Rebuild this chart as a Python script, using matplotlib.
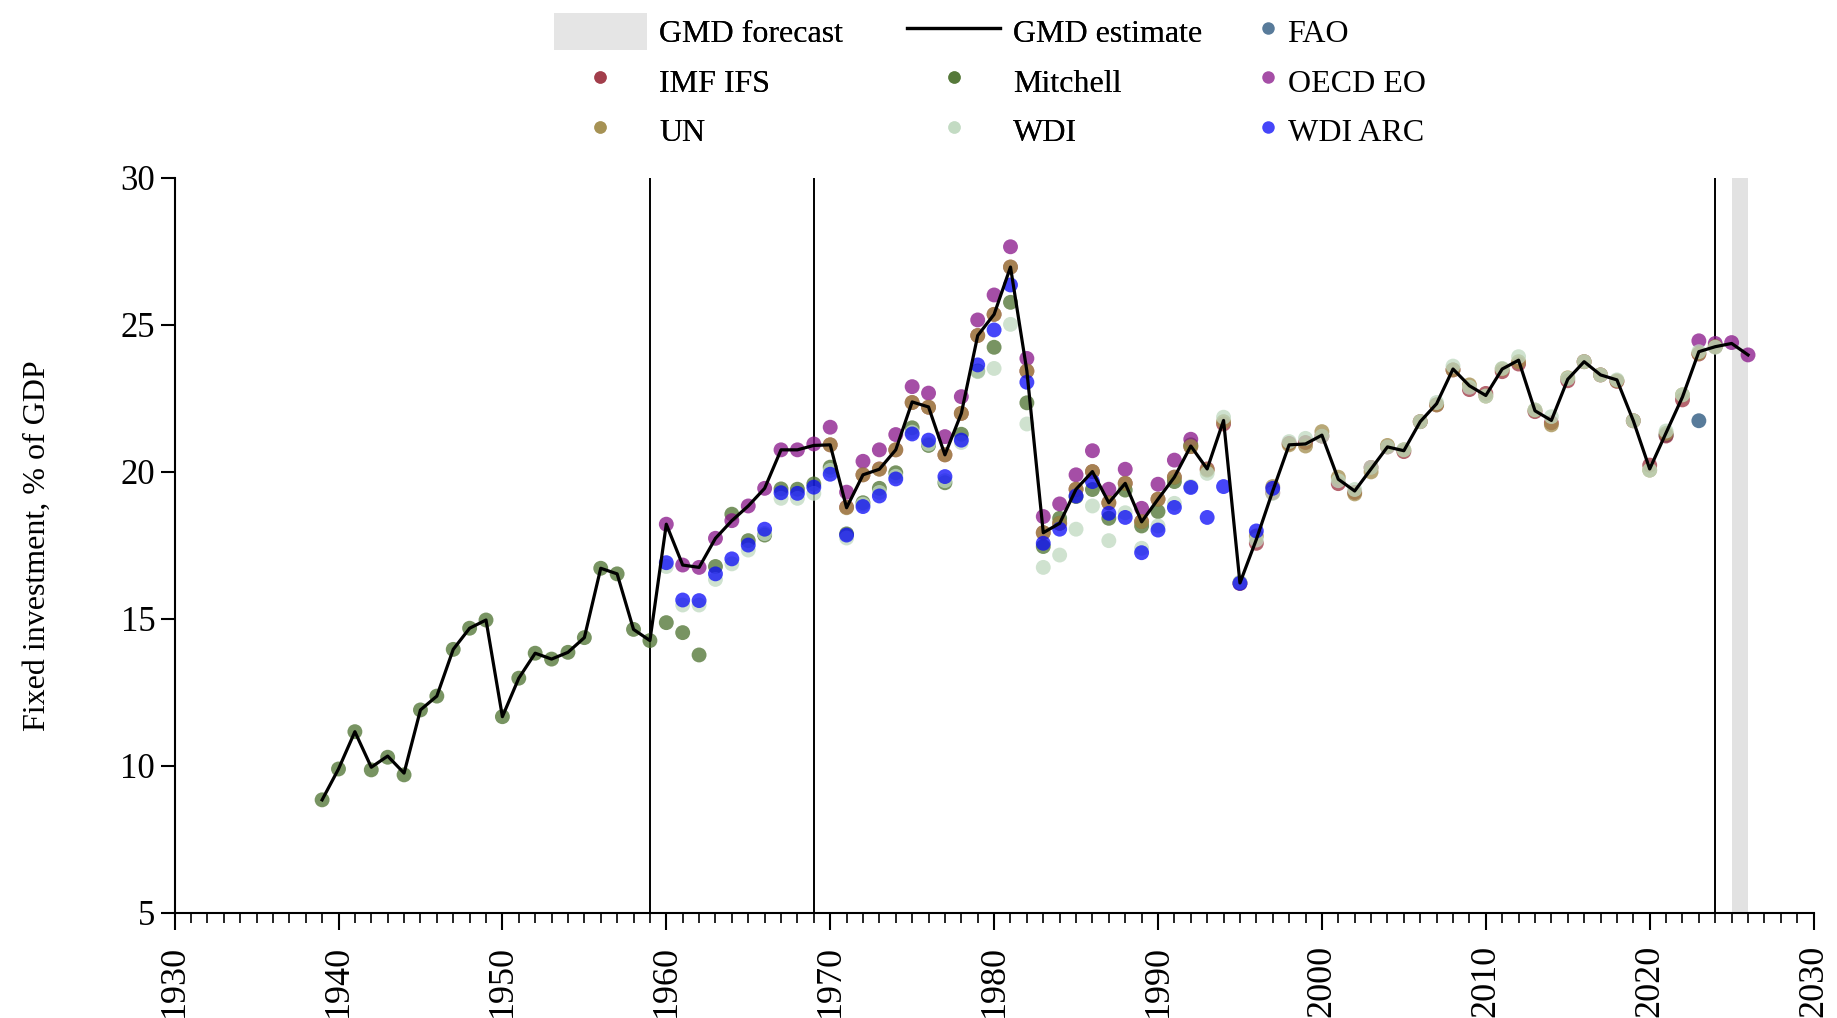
import numpy as np
import matplotlib
matplotlib.use("Agg")
from matplotlib import pyplot as plt
from matplotlib import ticker
from matplotlib.patches import Patch
from matplotlib.lines import Line2D

plt.rcParams['font.family'] = ['Liberation Serif', 'DejaVu Serif']

# ---- data (fixed investment, % of GDP) ----
gmd_years = list(range(1939, 2027))
gmd = [8.84, 9.89, 11.16, 9.95, 10.33, 9.75, 11.90, 12.37, 13.96, 14.68,   # 1939-1948
       14.96, 11.67, 12.98, 13.83, 13.63, 13.86, 14.36, 16.72, 16.53, 14.64,  # 1949-1958
       14.26, 18.22, 16.83, 16.75, 17.74, 18.34, 18.84, 19.44, 20.75, 20.75,  # 1959-1968
       20.90, 20.92, 18.78, 19.90, 20.09, 20.75, 22.38, 22.21, 20.58, 21.99,  # 1969-1978
       24.64, 25.36, 26.97, 23.43, 17.93, 18.25, 19.41, 20.01, 18.95, 19.61,  # 1979-1988
       18.30, 19.07, 19.82, 20.88, 20.10, 21.75, 16.22, 17.70, 19.35, 20.92,  # 1989-1998
       20.95, 21.25, 19.75, 19.35, 20.10, 20.85, 20.72, 21.71, 22.32, 23.50,  # 1999-2008
       22.93, 22.60, 23.50, 23.80, 22.08, 21.75, 23.15, 23.75, 23.30, 23.13,  # 2009-2018
       21.74, 20.10, 21.33, 22.55, 24.09, 24.26, 24.37, 23.98]               # 2019-2026

mitchell_years = list(range(1939, 1993))
mitchell = [8.84, 9.89, 11.16, 9.86, 10.29, 9.69, 11.90, 12.37, 13.96, 14.68,  # 1939-1948
            14.96, 11.67, 12.98, 13.83, 13.63, 13.86, 14.36, 16.72, 16.53, 14.64,  # 1949-1958
            14.26, 14.87, 14.53, 13.77, 16.78, 18.56, 17.66, 17.85, 19.42, 19.41,  # 1959-1968
            19.59, 20.16, 17.89, 18.95, 19.44, 19.97, 21.50, 20.90, 19.63, 21.28,  # 1969-1978
            23.43, 24.24, 25.77, 22.35, 17.46, 18.42, 19.16, 19.40, 18.42, 19.38,  # 1979-1988
            18.16, 18.65, 19.67, 20.92]                                            # 1989-1992

oecd_years = list(range(1960, 1993)) + [2023, 2024, 2025, 2026]
oecd = [18.22, 16.83, 16.75, 17.74, 18.34, 18.84, 19.44, 20.75, 20.75, 20.95,  # 1960-1969
        21.52, 19.31, 20.36, 20.75, 21.27, 22.90, 22.68, 21.20, 22.56, 25.17,  # 1970-1979
        26.02, 27.66, 23.86, 18.48, 18.91, 19.90, 20.72, 19.41, 20.09, 18.76,  # 1980-1989
        19.58, 20.40, 21.11,                                                   # 1990-1992
        24.46, 24.37, 24.40, 23.98]                                            # 2023-2026

arc_years = list(range(1960, 1998))
arc = [16.91, 15.64, 15.62, 16.53, 17.04, 17.51, 18.05, 19.29, 19.27, 19.48,  # 1960-1969
       19.92, 17.85, 18.82, 19.18, 19.76, 21.29, 21.08, 19.84, 21.08, 23.64,  # 1970-1979
       24.83, 26.36, 23.05, 17.57, 18.05, 19.18, 19.67, 18.59, 18.45, 17.25,  # 1980-1989
       18.02, 18.79, 19.47, 18.45, 19.50, 16.21, 17.99, 19.44]                # 1990-1997

wdi_years = list(range(1960, 2025))
wdi = [16.78, 15.47, 15.47, 16.34, 16.87, 17.34, 17.90, 19.10, 19.10, 19.27,  # 1960-1969
       20.05, 17.75, 18.90, 19.30, 19.85, 21.35, 20.95, 19.70, 21.00, 23.41,  # 1970-1979
       23.52, 25.02, 21.63, 16.75, 17.17, 18.05, 18.84, 17.66, 18.61, 17.40,  # 1980-1989
       18.16, 18.93, 19.50, 19.95, 21.86, 16.25, 17.68, 19.27, 21.03, 21.14,  # 1990-1999
       21.22, 19.70, 19.40, 20.15, 20.85, 20.75, 21.71, 22.36, 23.60, 22.88,  # 2000-2009
       22.58, 23.52, 23.92, 22.11, 21.88, 23.18, 23.75, 23.30, 23.13, 21.74,  # 2010-2019
       20.06, 21.39, 22.62, 24.09, 24.24]                                     # 2020-2024

un_years = list(range(1970, 2025))
un = [20.92, 18.78, 19.90, 20.09, 20.75, 22.36, 22.20, 20.58, 21.99, 24.64,  # 1970-1979
      25.36, 26.97, 23.43, 17.93, 18.25, 19.41, 20.01, 18.95, 19.61, 18.31,  # 1980-1989
      19.07, 19.82, 20.86, 20.06, 21.71, 16.22, 17.82, 19.50, 20.92, 20.88,  # 1990-1999
      21.37, 19.82, 19.25, 20.00, 20.90, 20.75, 21.71, 22.28, 23.47, 22.96,  # 2000-2009
      22.58, 23.50, 23.75, 22.10, 21.60, 23.20, 23.75, 23.30, 23.10, 21.74,  # 2010-2019
      20.06, 21.31, 22.62, 24.03, 24.26]                                     # 2020-2024

# IMF points before 1993 sit under the UN ones (only seen as darker dots)
imf_years = list(range(1970, 2025))
imf = [20.92, 18.80, 19.90, 20.10, 20.75, 22.36, 22.20, 20.58, 21.99, 24.64,  # 1970-1979
       25.36, 26.97, 23.43, 17.93, 18.25, 19.41, 20.01, 18.95, 19.61, 18.31,  # 1980-1989
       19.07, 19.82, 20.86, 20.10, 21.63, 16.20, 17.57, 19.29, 20.97, 21.00,  # 1990-1999
       21.22, 19.60, 19.30, 20.15, 20.85, 20.69, 21.71, 22.28, 23.47, 22.80,  # 2000-2009
       22.67, 23.41, 23.67, 22.05, 21.67, 23.10, 23.75, 23.30, 23.08, 21.74,  # 2010-2019
       20.23, 21.22, 22.45, 24.01, 24.26]                                     # 2020-2024

fao_years = [2021, 2023]
fao = [21.25, 21.74]

break_years = [1959, 1969, 2024]   # vertical lines
forecast_span = (2025, 2026)

# source name -> (years, values, colour); drawn in this order
sources = [("FAO", fao_years, fao, "#204f79"),
           ("IMF IFS", imf_years, imf, "#9c313f"),
           ("Mitchell", mitchell_years, mitchell, "#4b702d"),
           ("OECD EO", oecd_years, oecd, "#871388"),
           ("UN", un_years, un, "#a18b49"),
           ("WDI", wdi_years, wdi, "#bfd9c0"),
           ("WDI ARC", arc_years, arc, "#0808f8")]
ALPHA = 0.75


def make_plot():
    W, H = 1837, 1018
    fig = plt.figure(figsize=(W/100, H/100), dpi=100)
    ax = fig.add_axes([174.6/W, 1 - 912.7/H, 1639/W, 734.7/H])

    ax.axvspan(*forecast_span, color="#e2e2e2", lw=0, zorder=0)
    for yr in break_years:
        ax.axvline(yr, color="black", lw=1.4, zorder=1)

    for name, yrs, vals, col in sources:
        ax.scatter(yrs, vals, s=115, color=col, alpha=ALPHA, edgecolors="none", zorder=3)
    ax.plot(gmd_years, gmd, color="black", lw=2.3, zorder=4)

    ax.set_xlim(1930, 2030)
    ax.set_ylim(5, 30)
    ax.set_xticks(range(1930, 2031, 10))
    ax.xaxis.set_minor_locator(ticker.MultipleLocator(1))
    ax.set_yticks(range(5, 31, 5))
    ax.tick_params(axis="x", which="major", length=12, width=1.5, labelsize=26,
                   labelrotation=90, pad=11)
    ax.tick_params(axis="x", which="minor", length=7, width=1.2)
    ax.tick_params(axis="y", which="major", length=10, width=1.5, labelsize=25, pad=4)
    for side in ["top", "right"]:
        ax.spines[side].set_visible(False)
    for side in ["left", "bottom"]:
        ax.spines[side].set_linewidth(1.5)

    fig.text(37/W, 1 - 545.4/H, "Fixed investment, % of GDP", rotation=90,
             ha="center", va="center", fontsize=23)

    # legend: built as two blocks so the 3rd column gets a short handle
    def dot(col):
        return Line2D([], [], marker="o", ls="", color=col, alpha=ALPHA,
                      markersize=9, markeredgewidth=0)
    cols = {name: col for name, _, _, col in sources}
    h1 = [Patch(facecolor="#e5e5e5", edgecolor="none"), dot(cols["IMF IFS"]), dot(cols["UN"]),
          Line2D([], [], color="black", lw=2.3), dot(cols["Mitchell"]), dot(cols["WDI"])]
    l1 = ["GMD forecast", "IMF IFS", "UN", "GMD estimate", "Mitchell", "WDI"]
    leg_kw = dict(frameon=False, fontsize=23, handleheight=1.4, labelspacing=0.4,
                  borderpad=0, borderaxespad=0, handletextpad=0.4)
    leg1 = fig.legend(h1, l1, loc="upper left", bbox_to_anchor=(554/W, 1 - 13/H), ncol=2,
                      handlelength=2.9, columnspacing=2.0, **leg_kw)
    h2 = [dot(cols["FAO"]), dot(cols["OECD EO"]), dot(cols["WDI ARC"])]
    l2 = ["FAO", "OECD EO", "WDI ARC"]
    fig.legend(h2, l2, loc="upper left", bbox_to_anchor=(1262/W, 1 - 13/H), ncol=1,
               handlelength=0.4, **leg_kw)
    fig.add_artist(leg1)

    fig.savefig("out.png", dpi=100)
    return ax


if __name__ == "__main__":
    make_plot()
